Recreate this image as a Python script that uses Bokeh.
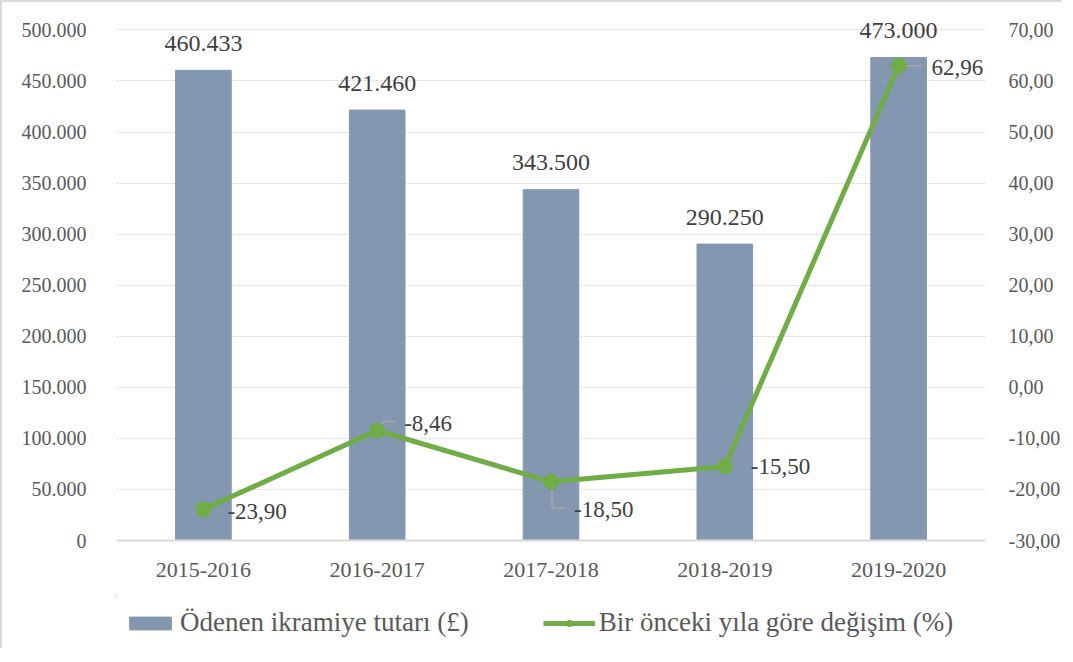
from bokeh.plotting import figure
from bokeh.layouts import column
from bokeh.models import (Range1d, LinearAxis, FixedTicker, ColumnDataSource,
                          Legend, LegendItem)
from bokeh.core.properties import value
from bokeh.embed import file_html
from bokeh.resources import INLINE

# ---------------- data ----------------
categories = ["2015-2016", "2016-2017", "2017-2018", "2018-2019", "2019-2020"]
amounts = [460433, 421460, 343500, 290250, 473000]
changes = [-23.90, -8.46, -18.50, -15.50, 62.96]
left_ticks = [0, 50000, 100000, 150000, 200000, 250000, 300000, 350000, 400000, 450000, 500000]
right_ticks = [-30, -20, -10, 0, 10, 20, 30, 40, 50, 60, 70]
bar_name = "Ödenen ikramiye tutarı (£)"
line_name = "Bir önceki yıla göre değişim (%)"


def tr_int(v):
    return f"{v:,}".replace(",", ".") if v != 0 else "0"


def tr_dec(v):
    return f"{v:.2f}".replace(".", ",")


amount_labels = [tr_int(v) for v in amounts]
change_labels = [tr_dec(v) for v in changes]
left_tick_labels = {t: tr_int(t) for t in left_ticks}
right_tick_labels = {t: tr_dec(t) for t in right_ticks}

# ---------------- style ----------------
FONT = "Liberation Serif"
BAR_COLOR = "#8497B0"
LINE_COLOR = "#70AD47"
TICK_COLOR = "#595959"
LABEL_COLOR = "#404040"
GRID_COLOR = "#D0D0D0"

# label offsets in screen px (x right, y down)
lbl_dx = [24, 27, 23, 26, 33]
lbl_dy = [2, -7, 28, 0, 2]
# leader polylines (px offsets from point), None = no leader
leaders = [None, [(2, -3), (6, -9), (18, -9)], [(1, 8), (1, 26), (14, 26)], None,
           [(2, 0), (24, 0)]]

# extra headroom above the top tick so top data labels are not clipped
HEAD = 0.04
L_MIN, L_MAX = left_ticks[0], left_ticks[-1]
R_MIN, R_MAX = right_ticks[0], right_ticks[-1]
L_TOP = L_MAX + (L_MAX - L_MIN) * HEAD
R_TOP = R_MAX + (R_MAX - R_MIN) * HEAD

FW, FH = 867, 529
ML, MR, MT, MB = 114, 76, 7, 58
TOTAL_W = ML + FW + MR

p = figure(frame_width=FW, frame_height=FH, x_range=Range1d(-0.5, len(categories) - 0.5),
           y_range=Range1d(L_MIN, L_TOP), output_backend="svg", toolbar_location=None,
           min_border_left=ML, min_border_right=MR, min_border_top=MT,
           min_border_bottom=MB)
p.extra_y_ranges = {"pct": Range1d(R_MIN, R_TOP)}
p.outline_line_color = None
p.background_fill_color = "white"
p.border_fill_color = "white"
p.styles = {"border-left": "2px solid #D9D9D9", "border-top": "2px solid #D9D9D9"}

idx = list(range(len(categories)))

# axes
xa = p.xaxis[0]
xa.ticker = FixedTicker(ticks=idx)
xa.major_label_overrides = {i: c for i, c in enumerate(categories)}
xa.major_tick_line_color = None
xa.minor_tick_line_color = None
xa.axis_line_color = "#D9D9D9"
xa.axis_line_width = 2
xa.major_label_text_font = FONT
xa.major_label_text_font_size = "22px"
xa.major_label_text_color = TICK_COLOR
xa.major_label_standoff = 16

ya = p.yaxis[0]
ya.ticker = FixedTicker(ticks=left_ticks)
ya.major_label_overrides = left_tick_labels
ya.major_tick_line_color = None
ya.minor_tick_line_color = None
ya.axis_line_color = None
ya.major_label_text_font = FONT
ya.major_label_text_font_size = "20px"
ya.major_label_text_color = TICK_COLOR
ya.major_label_standoff = 24

ra = LinearAxis(y_range_name="pct", ticker=FixedTicker(ticks=right_ticks))
ra.major_label_overrides = right_tick_labels
ra.major_tick_line_color = None
ra.minor_tick_line_color = None
ra.axis_line_color = None
ra.major_label_text_font = FONT
ra.major_label_text_font_size = "20px"
ra.major_label_text_color = TICK_COLOR
ra.major_label_standoff = 17
p.add_layout(ra, "right")

p.xgrid.grid_line_color = None
p.ygrid.ticker = FixedTicker(ticks=left_ticks[1:])
p.ygrid.grid_line_color = GRID_COLOR
p.ygrid.grid_line_dash = "2 2"
p.ygrid.grid_line_width = 1

# bars
src = ColumnDataSource(dict(x=idx, amt=amounts, amt_lbl=amount_labels,
                            chg=changes, chg_lbl=change_labels,
                            dx=lbl_dx, dy=lbl_dy))
p.vbar(x="x", top="amt", width=0.32, source=src, fill_color=BAR_COLOR,
       line_color=BAR_COLOR)
p.text(x="x", y="amt", text="amt_lbl", source=src, text_align="center",
       text_baseline="alphabetic", y_offset=-27, text_font=value(FONT),
       text_font_size="24px", text_color=LABEL_COLOR)

# leader lines (converted from px offsets to data units)
sx = FW / len(categories)
sy = FH / (R_TOP - R_MIN)
lxs, lys = [], []
for i, ld in enumerate(leaders):
    if ld is None:
        continue
    lxs.append([idx[i] + dx / sx for dx, dy in ld])
    lys.append([changes[i] - dy / sy for dx, dy in ld])
p.multi_line(xs=lxs, ys=lys, y_range_name="pct", line_color="#A6A6A6", line_width=1.5)

# line
p.line(x="x", y="chg", source=src, y_range_name="pct", line_color=LINE_COLOR,
       line_width=5)
p.scatter(x="x", y="chg", source=src, y_range_name="pct", size=15,
          fill_color=LINE_COLOR, line_color=LINE_COLOR)
p.text(x="x", y="chg", text="chg_lbl", source=src, y_range_name="pct",
       text_align="left", text_baseline="middle", x_offset="dx", y_offset="dy",
       text_font=value(FONT), text_font_size="23px", text_color=LABEL_COLOR)

# ---------------- legend strip ----------------
# legend-only plot: renderers share the data but the view range shows none of it
lp = figure(frame_width=TOTAL_W, frame_height=52, x_range=Range1d(100, 101),
            y_range=Range1d(-1e9, -1e9 + 1), output_backend="svg",
            toolbar_location=None, x_axis_type=None, y_axis_type=None, min_border=0)
lp.outline_line_color = None
lp.xgrid.grid_line_color = None
lp.ygrid.grid_line_color = None
lp.border_fill_color = "white"
lp.styles = {"border-left": "2px solid #D9D9D9"}
lb = lp.vbar(x="x", top="amt", width=0.32, source=src, fill_color=BAR_COLOR,
             line_color=BAR_COLOR)
ll = lp.line(x="x", y="chg", source=src, line_color=LINE_COLOR, line_width=5)
lc = lp.scatter(x="x", y="chg", source=src, size=14, fill_color=LINE_COLOR,
                line_color=LINE_COLOR)
legend = Legend(items=[LegendItem(label=bar_name, renderers=[lb]),
                       LegendItem(label=line_name, renderers=[ll, lc])],
                orientation="horizontal", location=(122, 10),
                label_text_font=FONT, label_text_font_size="27px",
                label_text_color=TICK_COLOR, glyph_width=52, glyph_height=16,
                label_standoff=4, spacing=74, border_line_color=None,
                background_fill_alpha=0, margin=0, padding=4)
lp.add_layout(legend, "center")

layout = column(p, lp, spacing=0)
open("out.html", "w").write(file_html(layout, INLINE))
